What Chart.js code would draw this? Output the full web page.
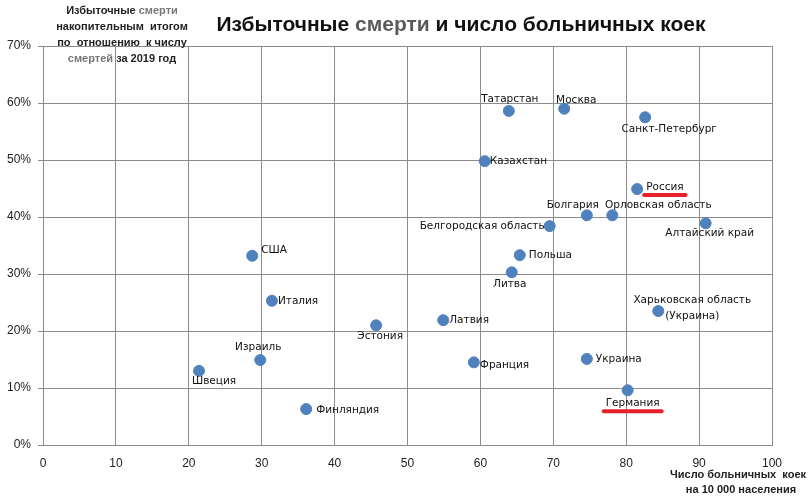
<!DOCTYPE html>
<html>
<head>
<meta charset="utf-8">
<script src="https://cdn.jsdelivr.net/npm/chart.js@4"></script>
<style>
  html, body { margin: 0; padding: 0; background: #fff; }
  #wrap { width: 811px; height: 498px; }
</style>
</head>
<body>
<div id="wrap"><canvas id="chart" width="811" height="498"></canvas></div>
<script>
// regions / countries
const names = [
  'Татарстан', 'Москва', 'Санкт-Петербург', 'Казахстан', 'Россия', 'Болгария',
  'Орловская область', 'Белгородская область', 'Алтайский край', 'США', 'Польша',
  'Литва', 'Италия', 'Эстония', 'Латвия', 'Харьковская область\n(Украина)',
  'Израиль', 'Швеция', 'Франция', 'Украина', 'Германия', 'Финляндия'
];
// hospital beds per 10 000 people
const beds = [
  63.9, 71.5, 82.6, 60.6, 81.5, 74.6,
  78.1, 69.5, 90.9, 28.7, 65.4,
  64.3, 31.4, 45.7, 54.9, 84.4,
  29.8, 21.4, 59.1, 74.6, 80.2, 36.1
];
// excess deaths, % of 2019 deaths
const excess = [
  58.6, 59.0, 57.5, 49.8, 44.9, 40.3,
  40.3, 38.4, 38.9, 33.2, 33.3,
  30.3, 25.3, 21.0, 21.9, 23.5,
  14.9, 13.0, 14.5, 15.1, 9.6, 6.3
];
const xTicks = [0, 10, 20, 30, 40, 50, 60, 70, 80, 90, 100];
const highlighted = ['Россия', 'Германия'];

// where each label sits relative to its dot: align, dx, dy
const labelPlace = {
  'Татарстан': ['center', 1, -12],
  'Москва': ['center', 12, -8],
  'Санкт-Петербург': ['center', 24, 12],
  'Казахстан': ['left', 5, 0],
  'Россия': ['left', 9, -2],
  'Болгария': ['center', -14, -10],
  'Орловская область': ['center', 46, -10],
  'Белгородская область': ['right', -5, 0],
  'Алтайский край': ['center', 4, 10],
  'США': ['left', 9, -5],
  'Польша': ['left', 9, 0],
  'Литва': ['center', -2, 12],
  'Италия': ['left', 6, 0],
  'Эстония': ['center', 4, 11],
  'Латвия': ['left', 6, 0],
  'Харьковская область\n(Украина)': ['center', 34, -11],
  'Израиль': ['center', -2, -13],
  'Швеция': ['center', 15, 10],
  'Франция': ['left', 6, 3],
  'Украина': ['left', 9, 0],
  'Германия': ['center', 5, 13],
  'Финляндия': ['left', 10, 1]
};

const points = beds.map((b, i) => ({ x: b, y: excess[i] }));

const labelsPlugin = {
  id: 'pointLabels',
  afterDatasetsDraw(chart) {
    const ctx = chart.ctx;
    const meta = chart.getDatasetMeta(0);
    ctx.save();
    ctx.font = '10.5px "DejaVu Sans"';
    ctx.fillStyle = '#111';
    ctx.textBaseline = 'middle';
    meta.data.forEach((el, i) => {
      const name = names[i];
      const p = labelPlace[name];
      ctx.textAlign = p[0];
      const lines = name.split('\n');
      lines.forEach((ln, k) => {
        const tx = el.x + p[1];
        const ty = el.y + p[2] + k * 16;
        ctx.fillText(ln, tx, ty);
        if (highlighted.includes(name)) {
          const w = ctx.measureText(ln).width;
          let left = tx;
          if (p[0] === 'center') left = tx - w / 2;
          if (p[0] === 'right') left = tx - w;
          ctx.save();
          ctx.strokeStyle = '#e8202a';
          ctx.lineWidth = 4;
          ctx.lineCap = 'round';
          ctx.beginPath();
          ctx.moveTo(left - 2, ty + 8);
          ctx.lineTo(left + w + 2, ty + 8);
          ctx.stroke();
          ctx.restore();
        }
      });
    });
    ctx.restore();
  }
};

const textPlugin = {
  id: 'texts',
  afterDraw(chart) {
    const ctx = chart.ctx;
    ctx.save();
    ctx.textBaseline = 'middle';
    // main title, one word greyed out like the source
    ctx.font = 'bold 21px "Liberation Sans"';
    const parts = [['Избыточные ', '#111'], ['смерти', '#5a5a5a'], [' и число больничных коек', '#111']];
    let total = 0;
    parts.forEach(p => total += ctx.measureText(p[0]).width);
    let x = 461 - total / 2;
    ctx.textAlign = 'left';
    parts.forEach(p => {
      ctx.fillStyle = p[1];
      ctx.fillText(p[0], x, 25);
      x += ctx.measureText(p[0]).width;
    });

    // y axis title
    ctx.font = 'bold 11px "Liberation Sans Narrow", "Liberation Sans"';
    const yTitle = [
      [['Избыточные ', '#222'], ['смерти', '#777']],
      [['накопительным  итогом', '#222']],
      [['по  отношению  к числу', '#222']],
      [['смертей', '#777'], [' за 2019 год', '#222']]
    ];
    yTitle.forEach((line, k) => {
      let w = 0;
      line.forEach(p => w += ctx.measureText(p[0]).width);
      let lx = 122 - w / 2;
      line.forEach(p => {
        ctx.fillStyle = p[1];
        ctx.fillText(p[0], lx, 11 + k * 16);
        lx += ctx.measureText(p[0]).width;
      });
    });

    // x axis title
    ctx.fillStyle = '#222';
    ctx.textAlign = 'right';
    ctx.fillText('Число больничных  коек', 806, 475);
    ctx.textAlign = 'center';
    ctx.fillText('на 10 000 населения', 741, 490);
    ctx.restore();
  }
};

new Chart(document.getElementById('chart'), {
  type: 'scatter',
  data: {
    datasets: [{
      data: points,
      backgroundColor: '#4f81bd',
      borderColor: '#4f81bd',
      pointRadius: 5.5,
      pointHoverRadius: 5.5
    }]
  },
  options: {
    responsive: false,
    animation: false,
    layout: { padding: { left: 0, top: 46, right: 39, bottom: 0 } },
    plugins: {
      legend: { display: false },
      tooltip: { enabled: false },
      title: { display: false }
    },
    scales: {
      x: {
        type: 'linear',
        min: 0,
        max: 100,
        afterBuildTicks(axis) { axis.ticks = xTicks.map(v => ({ value: v })); },
        afterFit(axis) { axis.height = 53; },
        grid: { color: '#8c8c8c', drawTicks: false, lineWidth: 1 },
        border: { color: '#8c8c8c' },
        ticks: {
          padding: 11,
          color: '#222',
          font: { family: '"Liberation Sans Narrow", "Liberation Sans"', size: 12 },
          maxRotation: 0
        }
      },
      y: {
        min: 0,
        max: 70,
        afterFit(axis) { axis.width = 43; },
        grid: { color: '#8c8c8c', tickLength: 5, lineWidth: 1 },
        border: { color: '#8c8c8c' },
        ticks: {
          stepSize: 10,
          padding: 7,
          color: '#222',
          font: { family: '"Liberation Sans Narrow", "Liberation Sans"', size: 12 },
          callback: v => v + '%'
        }
      }
    }
  },
  plugins: [labelsPlugin, textPlugin]
});
</script>
</body>
</html>
